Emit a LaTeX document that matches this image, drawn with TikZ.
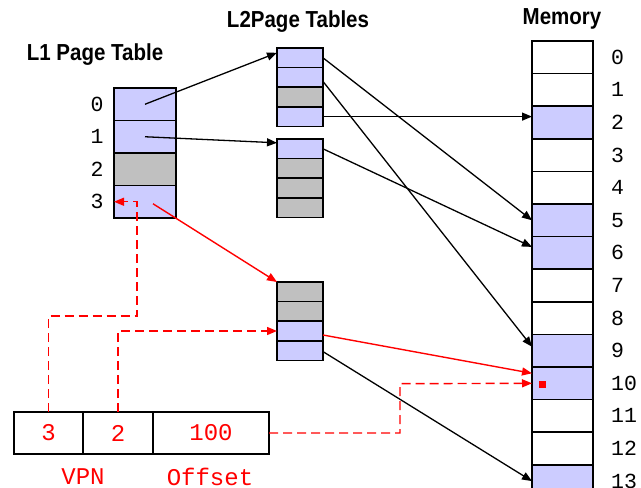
\documentclass[tikz,border=0pt]{standalone}
\usepackage{fontspec}
\setmainfont{Liberation Sans}
\newfontfamily\monofont{Liberation Mono}
\usetikzlibrary{arrows.meta,calc}
\definecolor{pblue}{RGB}{204,204,255}
\definecolor{pgray}{RGB}{192,192,192}
\newcommand{\tallt}[1]{\scalebox{1}[1.13]{#1}}
\begin{document}
\begin{tikzpicture}[x=1pt,y=-1pt,
 cellbase/.style={draw=black, line width=1.5pt, inner sep=0pt, outer sep=0pt},
 l1cell/.style={cellbase, minimum width=62pt, minimum height=32.5pt},
 l2cell/.style={cellbase, minimum width=46pt, minimum height=19.6pt},
 memcell/.style={cellbase, minimum width=61pt, minimum height=32.6pt},
 addrcell/.style={cellbase, minimum height=42pt, font=\monofont\fontsize{24}{24}\selectfont, text=red},
 title/.style={font=\bfseries\fontsize{20.5}{20.5}\selectfont, inner sep=0pt},
 numlab/.style={font=\monofont\fontsize{21.5}{21.5}\selectfont, inner sep=0pt},
 redlab/.style={font=\monofont\fontsize{24}{24}\selectfont, text=red, inner sep=0pt},
 ptr/.style={draw=black, line width=1.3pt, -{Triangle[length=10pt,width=8pt]}},
 redptr/.style={ptr, draw=red, line width=1.4pt},
 reddash/.style={redptr, dash pattern=on 9pt off 5pt},
]
\useasboundingbox (0,0) rectangle (641,488);
\clip (0,0) rectangle (641,488);

% titles
\node[title] (tl1) at (95,55) {\tallt{L1 Page Table}};
\node[title] (tl2) at (298,22) {\tallt{L2Page Tables}};
\node[title] (tmem) at (562,19) {\tallt{Memory}};

% L1 page table
\foreach \i/\c in {0/pblue,1/pblue,2/pgray,3/pblue}{
  \node[l1cell, fill=\c] (l1r\i) at (145,{104.25+32.5*\i}) {};
  \node[numlab] (l1l\i) at (97,{104.25+32.5*\i}) {\i};
}

% L2 tables
\foreach \i/\c in {0/pblue,1/pblue,2/pgray,3/pblue}{
  \node[l2cell, fill=\c] (t1r\i) at (300,{57.8+19.6*\i}) {};
}
\foreach \i/\c in {0/pblue,1/pgray,2/pgray,3/pgray}{
  \node[l2cell, fill=\c] (t2r\i) at (300,{148.8+19.6*\i}) {};
}
\foreach \i/\c in {0/pgray,1/pgray,2/pblue,3/pblue}{
  \node[l2cell, fill=\c] (t3r\i) at (300,{291.8+19.6*\i}) {};
}

% memory
\foreach \i/\c in {0/white,1/white,2/pblue,3/white,4/white,5/pblue,6/pblue,7/white,8/white,9/pblue,10/pblue,11/white,12/white,13/pblue}{
  \node[memcell, fill=\c] (m\i) at (562.5,{57.3+32.6*\i}) {};
  \node[numlab, anchor=west] (ml\i) at (611,{57.3+32.6*\i}) {\i};
}
\node[fill=red, inner sep=0pt, minimum size=7pt] (dot) at (542,384) {};

% virtual address
\node[addrcell, minimum width=69pt] (b3) at (48.5,433) {3};
\node[addrcell, minimum width=70pt] (b2) at (118,433) {2};
\node[addrcell, minimum width=116pt] (b100) at (211,433) {100};
\node[redlab] (vpn) at (83,477) {VPN};
\node[redlab] (off) at (210,477) {Offset};

% black pointers
\draw[ptr] (l1r0.center) -- ([yshift=5pt]t1r0.west);
\draw[ptr] (l1r1.center) -- ([yshift=6pt]t2r0.west);
\draw[ptr] (t1r0.east) -- (m5.west);
\draw[ptr] ([yshift=-4pt]t1r1.east) -- ([yshift=4pt]m9.west);
\draw[ptr] (t1r3.east) -- (t1r3.east -| m2.west);
\draw[ptr] (t2r0.east) -- ([yshift=6pt]m6.west);
\draw[ptr] ([yshift=-1pt]t3r3.east) -- (m13.west);

% red pointers
\draw[redptr] ($(l1r3.center)+(8,2)$) -- (t3r0.north west);
\draw[redptr] ([yshift=-4pt]t3r2.east) -- ([yshift=10pt]m10.west);

% red dashed paths
\coordinate (c1) at (137,316);
\coordinate (c2) at (400,383.7);
\draw[reddash] (b3.north) |- (c1) |- (l1r3.west);
\draw[reddash] (b2.north) |- (t3r2.west);
\draw[reddash] (b100.east) -| (c2) -- (m10.west);
\end{tikzpicture}
\end{document}
